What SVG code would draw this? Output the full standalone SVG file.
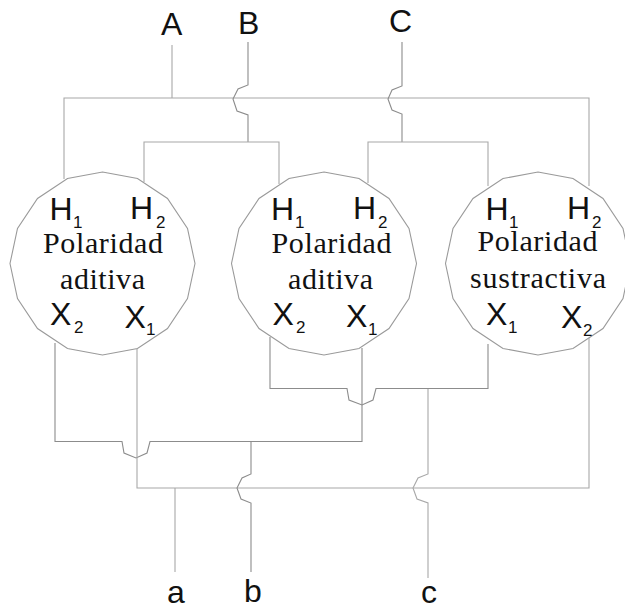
<svg xmlns="http://www.w3.org/2000/svg" width="625" height="611" viewBox="0 0 625 611">
<style>
.bg{fill:#fff}
.w{fill:none;stroke:#a8a8a8;stroke-width:1.1}
.d{fill:none;stroke:#8c8c8c;stroke-width:1.1}
.c{fill:#fff;stroke:#9a9a9a;stroke-width:1.1}
text{fill:#111}
.s{font-family:"Liberation Sans",Arial,sans-serif;font-size:32px}
.u{font-family:"Liberation Sans",Arial,sans-serif;font-size:17px}
.p{font-family:"Liberation Serif","Times New Roman",serif;font-size:30px;text-anchor:middle}
</style>
<defs>
<polygon id="ring" points="0,-91.500 35,-85 65,-65 85,-35 92.500,0 85,35 65,65 35,85 0,91.500 -35,85 -65,65 -85,35 -92.500,0 -85,-35 -65,-65 -35,-85"/>
</defs>
<rect class="bg" width="625" height="611"/>
<g id="connectors">
<path class="w" d="M172 45V98M64 179V98H589V186"/>
<path class="d" d="M248 42V85L238 89L233 99L237 111L248 115V142"/>
<path class="w" d="M144 182V142H279V184"/>
<path class="d" d="M402 42V86L392 90L388 99L392 110L402 114V142"/>
<path class="w" d="M368 183V142H488V186"/>
<path class="d" d="M55 343V441.500H122L124 453L136 458L147 453L150 441.500H362V348"/>
<path class="w" d="M137 348V488H589V338"/>
<path class="w" d="M175 488V572"/>
<path class="d" d="M251 441.500V474L242 478L237 488L241 499L251 503V572"/>
<path class="w" d="M428 388.500V474L418 478L413 488L417 499L428 503V578"/>
<path class="d" d="M270 337V388.500H347L349 400L362 405L373 400L376 388.500H488V344"/>
</g>
<g id="terminals">
<text class="s" x="161" y="35">A</text>
<text class="s" x="238" y="34">B</text>
<text class="s" x="389" y="32">C</text>
<text class="s" x="167" y="603">a</text>
<text class="s" x="244" y="602">b</text>
<text class="s" x="421" y="603">c</text>
</g>
<g id="transformer-1">
<use href="#ring" class="c" x="102.500" y="263.500"/>
<text class="s" x="49.500" y="220">H</text><text class="u" x="73" y="228">1</text>
<text class="s" x="130" y="219">H</text><text class="u" x="156" y="228">2</text>
<text class="p" x="103" y="253" textLength="120">Polaridad</text>
<text class="p" x="102.500" y="289" textLength="85">aditiva</text>
<text class="s" x="50" y="325">X</text><text class="u" x="74" y="333">2</text>
<text class="s" x="124.500" y="328">X</text><text class="u" x="146" y="335">1</text>
</g>
<g id="transformer-2">
<use href="#ring" class="c" x="324" y="263.500"/>
<text class="s" x="271" y="220">H</text><text class="u" x="295" y="228">1</text>
<text class="s" x="353" y="219">H</text><text class="u" x="378" y="228">2</text>
<text class="p" x="331.500" y="253" textLength="120">Polaridad</text>
<text class="p" x="330.500" y="289" textLength="85">aditiva</text>
<text class="s" x="272.500" y="325">X</text><text class="u" x="296" y="333">2</text>
<text class="s" x="346" y="327">X</text><text class="u" x="368" y="335">1</text>
</g>
<g id="transformer-3">
<use href="#ring" class="c" x="538" y="263.500"/>
<text class="s" x="485.500" y="220">H</text><text class="u" x="509" y="228">1</text>
<text class="s" x="567" y="219">H</text><text class="u" x="592" y="228">2</text>
<text class="p" x="537.500" y="251" textLength="120">Polaridad</text>
<text class="p" x="538" y="288" textLength="136">sustractiva</text>
<text class="s" x="486" y="325">X</text><text class="u" x="508" y="333">1</text>
<text class="s" x="561" y="328">X</text><text class="u" x="583" y="336">2</text>
</g>
</svg>
